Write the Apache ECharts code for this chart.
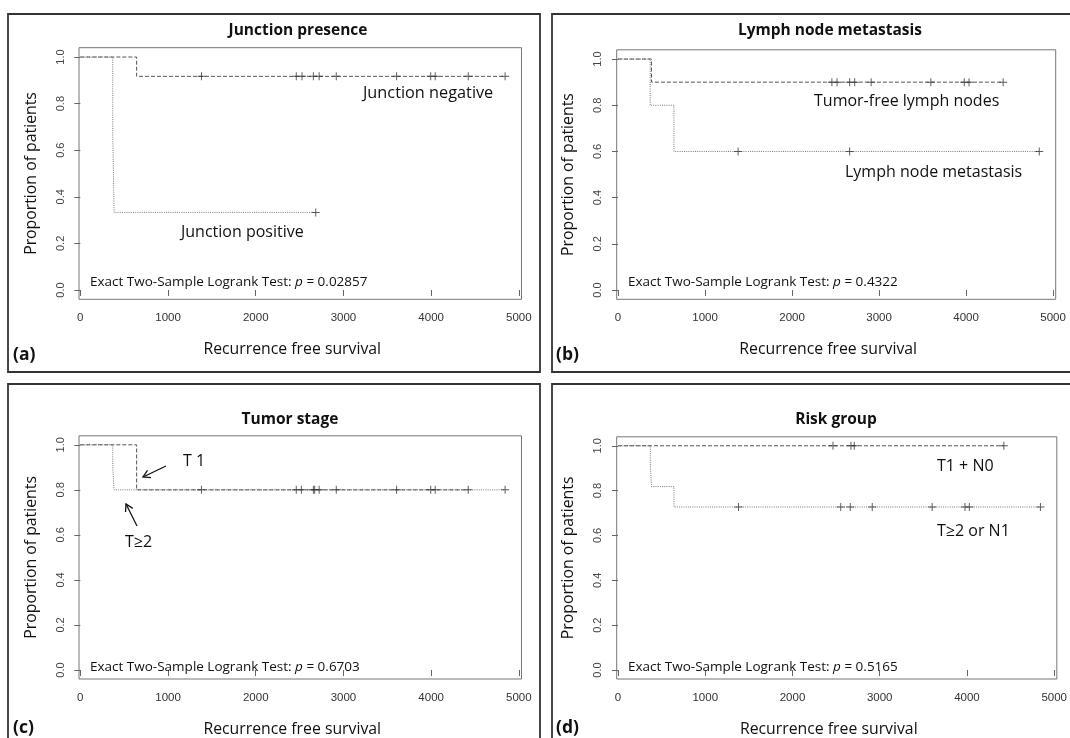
<!DOCTYPE html>
<html>
<head>
<meta charset="utf-8">
<script src="https://cdn.jsdelivr.net/npm/echarts@6/dist/echarts.min.js"></script>
<style>
html,body{margin:0;padding:0;background:#fff;}
#chart{width:1070px;height:738px;}
</style>
</head>
<body>
<div id="chart"></div>
<script>
// ---- tick labels ----
const xTicks = [0, 1000, 2000, 3000, 4000, 5000];
const yTicks = [0, 0.2, 0.4, 0.6, 0.8, 1.0];

// ---- panel titles ----
const panelTitles = ['Junction presence', 'Lymph node metastasis', 'Tumor stage', 'Risk group'];
const panelTags = ['(a)', '(b)', '(c)', '(d)'];
const pValues = ['0.02857', '0.4322', '0.6703', '0.5165'];

// ---- (a) Junction presence: [time, survival] step points + censor times ----
const junctionNegSteps = [[0, 1], [642, 0.917], [4843, 0.917]];
const junctionNegCensor = [1381, 2462, 2528, 2657, 2723, 2918, 3606, 3995, 4046, 4423, 4843];
const junctionPosSteps = [[0, 1], [370, 0.667], [385, 0.333], [2684, 0.333]];
const junctionPosCensor = [2684];

// ---- (b) Lymph node metastasis ----
const tumorFreeSteps = [[0, 1], [385, 0.9], [4426, 0.9]];
const tumorFreeCensor = [2458, 2517, 2662, 2720, 2909, 3595, 3979, 4034, 4426];
const lnMetSteps = [[0, 1], [370, 0.8], [643, 0.6], [4841, 0.6]];
const lnMetCensor = [1380, 2662, 4841];

// ---- (c) Tumor stage ----
const t1Steps = [[0, 1], [642, 0.8], [4423, 0.8]];
const t1Censor = [2462, 2672, 2723, 4423];
const t2Steps = [[0, 1], [370, 0.9], [385, 0.8], [4843, 0.8]];
const t2Censor = [1381, 2520, 2657, 2918, 3606, 3995, 4046, 4843];

// ---- (d) Risk group ----
const lowRiskSteps = [[0, 1], [4423, 1]];
const lowRiskCensor = [2464, 2670, 2708, 4423];
const highRiskSteps = [[0, 1], [370, 0.909], [385, 0.818], [642, 0.727], [4842, 0.727]];
const highRiskCensor = [1381, 2553, 2662, 2914, 3601, 3977, 4027, 4842];

// ---------------------------------------------------------------
const FONT = "'Open Sans', 'Noto Sans', sans-serif";
const TICKFONT = "'Liberation Sans', Arial, sans-serif";

// panel layout (pixels)
const grids = [
  {left: 79, top: 47.7, width: 442.5, height: 251.6},
  {left: 616.7, top: 49.8, width: 439, height: 249.5},
  {left: 79, top: 435.8, width: 442.5, height: 249.5},
  {left: 616.7, top: 436.8, width: 441.5, height: 249.5}
];

function levelAt(steps, t) {
  let v = steps[0][1];
  for (const p of steps) { if (p[0] <= t) v = p[1]; }
  return v;
}
const PLUS = 'path://M0,3.95H3.95V0H5.05V3.95H9V5.05H5.05V9H3.95V5.05H0Z';

const dashedStyle = {color: '#555', width: 1, type: [4, 2]};
const dottedStyle = {color: '#777', width: 1, type: [1, 1.2]};

const groups = [
  [0, junctionPosSteps, junctionPosCensor, dottedStyle],
  [0, junctionNegSteps, junctionNegCensor, dashedStyle],
  [1, lnMetSteps, lnMetCensor, dottedStyle],
  [1, tumorFreeSteps, tumorFreeCensor, dashedStyle],
  [2, t2Steps, t2Censor, dottedStyle],
  [2, t1Steps, t1Censor, dashedStyle],
  [3, highRiskSteps, highRiskCensor, dottedStyle],
  [3, lowRiskSteps, lowRiskCensor, dashedStyle]
];

const series = [];
groups.forEach(([pi, steps, censor, style]) => {
  series.push({
    type: 'line', xAxisIndex: pi, yAxisIndex: pi, step: 'end',
    data: steps, showSymbol: false, symbol: 'none', lineStyle: style,
    silent: true, z: 2
  });
  series.push({
    type: 'scatter', xAxisIndex: pi, yAxisIndex: pi,
    data: censor.map(t => [t, levelAt(steps, t)]),
    symbol: PLUS, symbolSize: 8, itemStyle: {color: '#333'}, silent: true, z: 3
  });
});

const xNamePad = [0, 16, 0, 0];
const xAxes = grids.map((g, i) => ({
  type: 'value', gridIndex: i, min: -15, max: 5030,
  axisLine: {show: false},
  axisTick: {show: true, customValues: xTicks, length: 6, lineStyle: {color: '#666'}},
  axisLabel: {show: true, customValues: xTicks, fontSize: 11.5, fontFamily: TICKFONT, color: '#333', margin: 13,
    formatter: v => String(Math.round(v))},
  splitLine: {show: false},
  name: 'Recurrence free survival', nameLocation: 'middle', nameGap: 42,
  nameTextStyle: {fontFamily: FONT, fontSize: 15.8, color: '#111', padding: xNamePad}
}));
const yAxes = grids.map((g, i) => ({
  type: 'value', gridIndex: i, min: -0.04, max: 1.04,
  axisLine: {show: false},
  axisTick: {show: true, customValues: yTicks, length: 6, lineStyle: {color: '#666'}},
  axisLabel: {show: true, customValues: yTicks, rotate: 90, fontSize: 11, fontFamily: TICKFONT, color: '#444', margin: 13,
    formatter: v => v.toFixed(1)},
  splitLine: {show: false},
  name: 'Proportion of patients', nameLocation: 'middle', nameGap: 40, nameRotate: 90,
  nameTextStyle: {fontFamily: FONT, fontSize: 15.8, color: '#111'}
}));

function arrow(x1, y1, x2, y2) {
  const a = Math.atan2(y2 - y1, x2 - x1), L = 8, w = Math.PI / 6;
  return [
    {type: 'line', shape: {x1, y1, x2, y2}, style: {stroke: '#111', lineWidth: 1.3}, z: 10},
    {type: 'polyline', shape: {points: [
      [x2 - L * Math.cos(a - w), y2 - L * Math.sin(a - w)], [x2, y2],
      [x2 - L * Math.cos(a + w), y2 - L * Math.sin(a + w)]]},
      style: {stroke: '#111', lineWidth: 1.3, fill: null}, z: 10}
  ];
}
function txt(x, y, text, size, opts) {
  return {type: 'text', x, y, z: 10, style: Object.assign({
    text, fontFamily: FONT, fontSize: size, fill: '#111', align: 'left', verticalAlign: 'middle'
  }, opts || {})};
}
function logrank(x, y, p) {
  return {type: 'text', x, y, z: 10, style: {
    text: '{a|Exact Two-Sample Logrank Test: }{i|p}{a| = ' + p + '}',
    verticalAlign: 'middle', align: 'left',
    rich: {a: {fontFamily: FONT, fontSize: 13.5, fill: '#111'}, i: {fontFamily: FONT, fontSize: 13.5, fontStyle: 'italic', fill: '#111'}}
  }};
}

const borders = [
  {x: 8, y: 14, w: 532, h: 358},
  {x: 552, y: 14, w: 600, h: 358},
  {x: 8, y: 384, w: 532, h: 400},
  {x: 552, y: 384, w: 600, h: 400}
];
const graphics = [];
borders.forEach(b => graphics.push({type: 'rect', shape: {x: b.x, y: b.y, width: b.w, height: b.h},
  style: {fill: null, stroke: '#333', lineWidth: 1.8}, z: 1}));

const titlePos = [[298, 31], [830, 31], [290, 420], [836, 420]];
titlePos.forEach((p, i) => graphics.push(txt(p[0], p[1], panelTitles[i], 15.5, {fontWeight: 'bold', align: 'center'})));
const tagPos = [[13, 355], [556, 355], [13, 728], [556, 728]];
tagPos.forEach((p, i) => graphics.push(txt(p[0], p[1], panelTags[i], 17.5, {fontWeight: 'bold'})));
const lrPos = [[90, 282], [628, 282], [90, 667], [628, 667]];
lrPos.forEach((p, i) => graphics.push(logrank(p[0], p[1], pValues[i])));

graphics.push(txt(363, 93, 'Junction negative', 16.3));
graphics.push(txt(181, 232, 'Junction positive', 16));
graphics.push(txt(814, 101, 'Tumor-free lymph nodes', 16));
graphics.push(txt(845, 172, 'Lymph node metastasis', 16));
graphics.push(txt(183, 461, 'T 1', 16));
graphics.push(txt(125, 542, 'T\u22652', 16));
graphics.push(txt(937, 466, 'T1 + N0', 16));
graphics.push(txt(937, 531, 'T\u22652 or N1', 16));
graphics.push(...arrow(166, 466, 143, 477));
graphics.push(...arrow(137, 526, 126, 504));

const chart = echarts.init(document.getElementById('chart'), null, {renderer: 'canvas'});
chart.setOption({
  animation: false,
  backgroundColor: '#fff',
  grid: grids.map(g => Object.assign({show: true, borderColor: '#777', borderWidth: 1, backgroundColor: 'transparent'}, g)),
  xAxis: xAxes,
  yAxis: yAxes,
  series: series,
  graphic: graphics
});
</script>
</body>
</html>
